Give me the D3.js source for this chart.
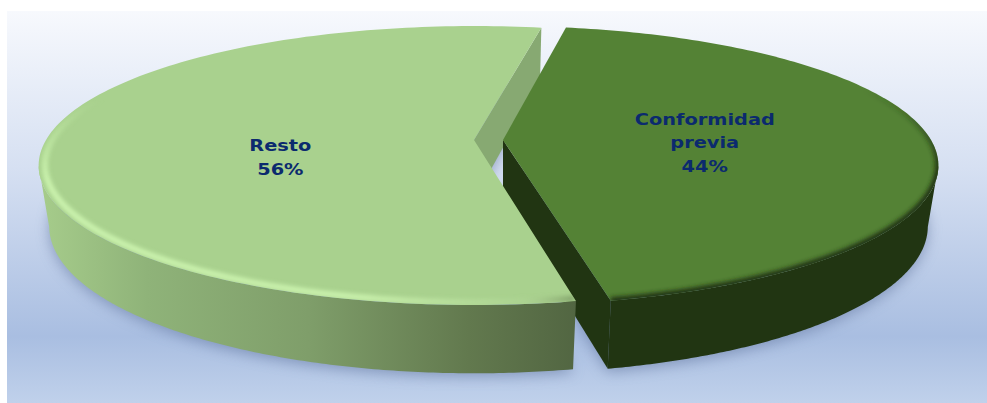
<!DOCTYPE html>
<html><head><meta charset="utf-8">
<script src="https://cdnjs.cloudflare.com/ajax/libs/d3/7.8.5/d3.min.js"></script>
<style>html,body{margin:0;padding:0;background:#fff}svg{display:block}</style>
</head><body><svg id="chart" width="987" height="403"></svg>
<script>
// Share of cases, by whether a prior agreement existed
const categories = [["Conformidad", "previa"], ["Resto"]];
const shares = [44, 56];

const topFill = ["#548235", "#A9D18E"];
const innerWallFill = ["#213512", "#87A972"];
const labelFill = "#0B2A6E";

const W = 987, H = 403;
const radiusX = 428, radiusY = 134.8;     // plane scale of the disc
const perspective = 0.183;                // foreshortening along depth
const thickness = 61.4, taper = 0.024;    // extrusion of the disc
const apex = [{x: 503, y: 140}, {x: 474, y: 140}];  // exploded slice tips
const rad = d => d * Math.PI / 180;

const svg = d3.select("#chart");
const defs = svg.append("defs");

const bg = defs.append("linearGradient").attr("id", "panel").attr("x1", 0).attr("y1", 0).attr("x2", 0).attr("y2", 1);
[[0, "#F7F9FD"], [0.4, "#D6E0F2"], [0.83, "#A9BEE1"], [1, "#C0D1EB"]].forEach(([o, c]) =>
  bg.append("stop").attr("offset", o).attr("stop-color", c));

const wallLight = defs.append("linearGradient").attr("id", "wallLight").attr("gradientUnits", "userSpaceOnUse")
  .attr("x1", 40).attr("y1", 0).attr("x2", 576).attr("y2", 0);
[[0, "#A6CC8B"], [0.2, "#8FB379"], [0.5, "#7F9E6A"], [0.8, "#62794E"], [1, "#526642"]].forEach(([o, c]) =>
  wallLight.append("stop").attr("offset", o).attr("stop-color", c));

const rimLight = defs.append("linearGradient").attr("id", "rimLight").attr("gradientUnits", "userSpaceOnUse")
  .attr("x1", 40).attr("y1", 0).attr("x2", 576).attr("y2", 0);
[[0, "#CDF5B0", 0.95], [0.6, "#CDF5B0", 0.9], [0.88, "#C6EBAB", 0.2], [1, "#6E8A58", 0.7]].forEach(([o, c, a]) =>
  rimLight.append("stop").attr("offset", o).attr("stop-color", c).attr("stop-opacity", a));

const rimDark = defs.append("linearGradient").attr("id", "rimDark").attr("gradientUnits", "userSpaceOnUse")
  .attr("x1", 0).attr("y1", 90).attr("x2", 0).attr("y2", 175);
[[0, 0], [1, 1]].forEach(([o, a]) =>
  rimDark.append("stop").attr("offset", o).attr("stop-color", innerWallFill[0]).attr("stop-opacity", a));

// Fades the light rim out as it climbs toward the far side
const rimFade = defs.append("linearGradient").attr("id", "rimFade").attr("gradientUnits", "userSpaceOnUse")
  .attr("x1", 0).attr("y1", 100).attr("x2", 0).attr("y2", 180);
[[0, "#000"], [1, "#fff"]].forEach(([o, c]) => rimFade.append("stop").attr("offset", o).attr("stop-color", c));
defs.append("mask").attr("id", "rimMask").attr("maskUnits", "userSpaceOnUse")
  .attr("x", 0).attr("y", 0).attr("width", W).attr("height", H)
  .append("rect").attr("width", W).attr("height", H).attr("fill", "url(#rimFade)");

const blur = (id, s) => defs.append("filter").attr("id", id)
  .attr("x", "-10%").attr("y", "-10%").attr("width", "120%").attr("height", "130%")
  .append("feGaussianBlur").attr("stdDeviation", s);
blur("soft", 7); blur("rim", 2);

svg.append("rect").attr("x", 7).attr("y", 11).attr("width", W - 7).attr("height", H - 11).attr("fill", "url(#panel)");

// Slices run clockwise from just past twelve o'clock; the exploded cut faces sit slightly off the shared boundary
const arcs = d3.pie().sort(null).startAngle(rad(10)).endAngle(rad(370))(shares);
const dark = {startAngle: arcs[0].startAngle, endAngle: arcs[0].endAngle - rad(0.33)};
const light = {startAngle: arcs[1].startAngle + rad(0.33), endAngle: arcs[1].endAngle + rad(0.7)};

// Projects a point of the disc: r in 0..1, angle clockwise from the far side, level 0 on top, 1 below
function project(i, r, angle, level) {
  const u = r * Math.sin(angle), v = -r * Math.cos(angle);
  const w = 1 - perspective * v + taper * level;
  return [apex[i].x + radiusX * u / w, apex[i].y + (radiusY * v + thickness * level) / w];
}
const line = d3.line();
const steps = 160;
const angleAt = (a, k) => a.startAngle + (a.endAngle - a.startAngle) * k / steps;
const rimPoints = (i, a, level, r = 1) => d3.range(0, steps + 1).map(k => project(i, r, angleAt(a, k), level));
const facePath = (i, a, level) => line([project(i, 0, 0, level), ...rimPoints(i, a, level)]) + "Z";
const outerWall = (i, a) => line([...rimPoints(i, a, 0), ...rimPoints(i, a, 1).reverse()]) + "Z";
// Flat cut face running from the tip out to the rim at the given angle
const cutWall = (i, angle) => line([project(i, 0, 0, 0), project(i, 1, angle, 0), project(i, 1, angle, 1), project(i, 0, 0, 1)]) + "Z";

// The side is visible from the silhouette angle on, where the disc is widest on screen
const silhouette = Math.acos(-perspective);
const nearDark = {startAngle: silhouette, endAngle: dark.endAngle};
const nearLight = {startAngle: light.startAngle, endAngle: 2 * Math.PI - silhouette};

// Soft ground shadow under both slices
const shadow = svg.append("g").attr("filter", "url(#soft)").attr("fill", "#5C6F99").attr("opacity", 0.55)
  .attr("transform", "translate(0,3)");
shadow.append("path").attr("d", facePath(0, dark, 1));
shadow.append("path").attr("d", facePath(1, light, 1));

// Back to front: far cut face, dark slice, light slice
svg.append("path").attr("d", cutWall(1, light.endAngle)).attr("fill", innerWallFill[1]);
svg.append("path").attr("d", cutWall(0, dark.endAngle)).attr("fill", innerWallFill[0]);
svg.append("path").attr("d", outerWall(0, nearDark)).attr("fill", innerWallFill[0]);
svg.append("path").attr("d", facePath(0, dark, 0)).attr("fill", topFill[0]);

// Rounded top edge of the dark slice, deepening toward the viewer
defs.append("clipPath").attr("id", "clipDark").append("path").attr("d", facePath(0, dark, 0));
svg.append("path").attr("clip-path", "url(#clipDark)").attr("fill", "none")
  .attr("d", line(rimPoints(0, {startAngle: rad(35), endAngle: dark.endAngle}, 0)))
  .attr("stroke", "url(#rimDark)").attr("stroke-width", 7).attr("filter", "url(#rim)");

svg.append("path").attr("d", outerWall(1, nearLight)).attr("fill", "url(#wallLight)");
svg.append("path").attr("d", facePath(1, light, 0)).attr("fill", topFill[1]);

// Highlight along the rounded top edge of the light slice
defs.append("clipPath").attr("id", "clipLight").append("path").attr("d", facePath(1, light, 0));
svg.append("g").attr("mask", "url(#rimMask)").append("path").attr("clip-path", "url(#clipLight)").attr("fill", "none")
  .attr("d", line(rimPoints(1, {startAngle: light.startAngle, endAngle: rad(300)}, 0, 0.986)))
  .attr("stroke", "url(#rimLight)").attr("stroke-width", 6).attr("filter", "url(#rim)");

// Category name and share, centred on each slice
const labelRadius = [0.472, 0.452], labelDrop = [3, 16];
arcs.forEach((a, i) => {
  const mid = (a.startAngle + a.endAngle) / 2;
  const [x, y] = project(i, labelRadius[i], mid, 0);
  const lines = [...categories[i], `${shares[i]}%`];
  const g = svg.append("g")
    .attr("transform", `translate(${x},${y + labelDrop[i] - (lines.length - 1) * 11.7 + 6}) scale(1.21,1)`);
  g.selectAll("text").data(lines).join("text")
    .attr("y", (d, k) => k * 23.4)
    .attr("text-anchor", "middle")
    .attr("font-family", "DejaVu Sans")
    .attr("font-weight", "bold")
    .attr("font-size", 16)
    .attr("fill", labelFill)
    .text(d => d);
});
</script></body></html>
